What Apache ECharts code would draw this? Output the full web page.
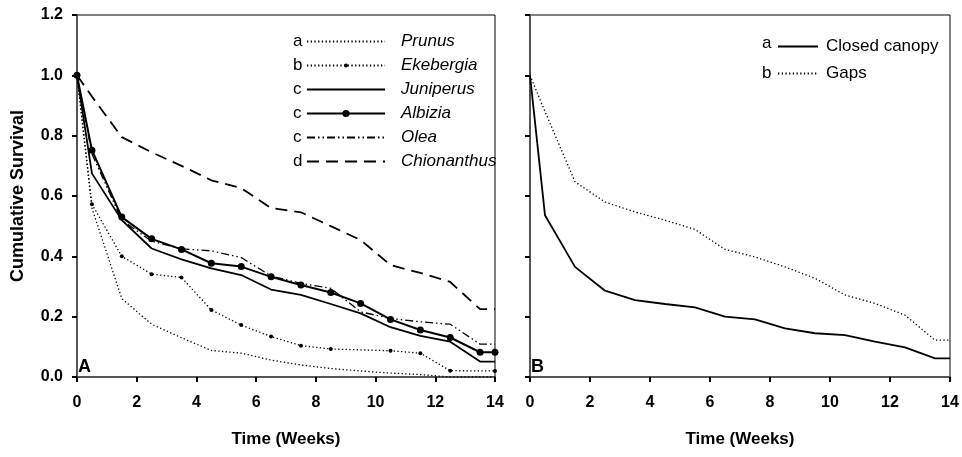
<!DOCTYPE html>
<html>
<head>
<meta charset="utf-8">
<script src="https://cdn.jsdelivr.net/npm/echarts@6/dist/echarts.min.js"></script>
<style>
html,body{margin:0;padding:0;background:#fff;}
#chart{width:962px;height:457px;}
</style>
</head>
<body>
<div id="chart"></div>
<script>
// Time points (weeks)
var weeks = [0, 0.5, 1.5, 2.5, 3.5, 4.5, 5.5, 6.5, 7.5, 8.5, 9.5, 10.5, 11.5, 12.5, 13.5, 14];
// Panel A species
var prunus      = [1.0, 0.56, 0.26, 0.175, 0.13, 0.088, 0.079, 0.056, 0.04, 0.028, 0.02, 0.013, 0.008, 0.0, 0.0, 0.0];
var ekebergiaWeeks = [0, 0.5, 1.5, 2.5, 3.5, 4.5, 5.5, 6.5, 7.5, 8.5, 10.5, 11.5, 12.5, 14];
var ekebergia   = [1.0, 0.573, 0.40, 0.341, 0.33, 0.222, 0.172, 0.134, 0.104, 0.093, 0.087, 0.079, 0.021, 0.02];
var juniperus   = [1.0, 0.675, 0.52, 0.426, 0.39, 0.36, 0.338, 0.29, 0.272, 0.242, 0.211, 0.165, 0.136, 0.117, 0.051, 0.051];
var albizia     = [1.0, 0.752, 0.53, 0.458, 0.423, 0.377, 0.366, 0.332, 0.305, 0.28, 0.244, 0.191, 0.156, 0.131, 0.082, 0.082];
var olea        = [1.0, 0.74, 0.52, 0.45, 0.425, 0.418, 0.396, 0.335, 0.31, 0.294, 0.216, 0.194, 0.183, 0.175, 0.109, 0.109];
var chionanthus = [1.0, 0.93, 0.795, 0.745, 0.70, 0.652, 0.626, 0.56, 0.546, 0.50, 0.454, 0.371, 0.345, 0.315, 0.225, 0.225];
// Panel B habitats
var closedCanopy = [1.0, 0.536, 0.365, 0.286, 0.255, 0.242, 0.231, 0.2, 0.191, 0.161, 0.145, 0.139, 0.117, 0.098, 0.062, 0.062];
var gaps         = [1.0, 0.88, 0.647, 0.58, 0.547, 0.52, 0.489, 0.423, 0.398, 0.365, 0.327, 0.272, 0.244, 0.205, 0.122, 0.122];
// Legend entries and letters (significance groups)
var speciesNames = ['Prunus', 'Ekebergia', 'Juniperus', 'Albizia', 'Olea', 'Chionanthus'];
var speciesLetters = ['a', 'b', 'c', 'c', 'c', 'd'];
var habitatNames = ['Closed canopy', 'Gaps'];
var habitatLetters = ['a', 'b'];
var xTicks = {min: 0, max: 14, interval: 2};
var yTicks = {min: 0, max: 1.2, interval: 0.2};

function pairs(xs, ys) { return xs.map(function (x, i) { return [x, ys[i]]; }); }

var FONT = '"Liberation Sans", Arial, sans-serif';
var chart = echarts.init(document.getElementById('chart'), null, {renderer: 'canvas'});

function xAxis(idx) {
  return {
    gridIndex: idx, type: 'value', min: xTicks.min, max: xTicks.max, interval: xTicks.interval,
    name: 'Time (Weeks)', nameLocation: 'middle', nameGap: 54,
    nameTextStyle: {fontFamily: FONT, fontWeight: 'bold', fontSize: 17, color: '#000'},
    axisLine: {show: true, lineStyle: {color: '#555', width: 2}},
    axisTick: {show: true, inside: false, length: 5, lineStyle: {color: '#000', width: 2}},
    axisLabel: {fontFamily: FONT, fontWeight: 'bold', fontSize: 16, color: '#000', margin: 18},
    splitLine: {show: false}
  };
}
function yAxis(idx, labels) {
  return {
    gridIndex: idx, type: 'value', min: yTicks.min, max: yTicks.max, interval: yTicks.interval,
    name: labels ? 'Cumulative Survival' : '', nameLocation: 'middle', nameGap: 50,
    nameTextStyle: {fontFamily: FONT, fontWeight: 'bold', fontSize: 18, color: '#000'},
    axisLine: {show: true, lineStyle: {color: '#555', width: 2}},
    axisTick: {show: true, inside: false, length: 5, lineStyle: {color: '#000', width: 2}},
    axisLabel: {show: labels, fontFamily: FONT, fontWeight: 'bold', fontSize: 16, color: '#000', margin: 14,
      formatter: function (v) { return v.toFixed(1); }},
    splitLine: {show: false}
  };
}

var black = '#000';
var DOT = [1.3, 2.4];
var series = [
  {name: 'Prunus', type: 'line', xAxisIndex: 0, yAxisIndex: 0, data: pairs(weeks, prunus),
   symbol: 'none', lineStyle: {color: black, width: 1.3, type: DOT}, itemStyle: {color: black}},
  {name: 'Ekebergia', type: 'line', xAxisIndex: 0, yAxisIndex: 0, data: pairs(ekebergiaWeeks, ekebergia),
   symbol: 'circle', symbolSize: 4, lineStyle: {color: black, width: 1.3, type: DOT}, itemStyle: {color: black}},
  {name: 'Juniperus', type: 'line', xAxisIndex: 0, yAxisIndex: 0, data: pairs(weeks, juniperus),
   symbol: 'none', lineStyle: {color: black, width: 1.8, type: 'solid'}, itemStyle: {color: black}},
  {name: 'Albizia', type: 'line', xAxisIndex: 0, yAxisIndex: 0, data: pairs(weeks, albizia),
   symbol: 'circle', symbolSize: 7, lineStyle: {color: black, width: 2, type: 'solid'}, itemStyle: {color: black}},
  {name: 'Olea', type: 'line', xAxisIndex: 0, yAxisIndex: 0, data: pairs(weeks, olea),
   symbol: 'none', lineStyle: {color: black, width: 1.3, type: [8, 3, 1.5, 3, 1.5, 3]}, itemStyle: {color: black}},
  {name: 'Chionanthus', type: 'line', xAxisIndex: 0, yAxisIndex: 0, data: pairs(weeks, chionanthus),
   symbol: 'none', lineStyle: {color: black, width: 1.8, type: [12, 7]}, itemStyle: {color: black}},
  {name: 'Closed canopy', type: 'line', xAxisIndex: 1, yAxisIndex: 1, data: pairs(weeks, closedCanopy),
   symbol: 'none', lineStyle: {color: black, width: 1.8, type: 'solid'}, itemStyle: {color: black}},
  {name: 'Gaps', type: 'line', xAxisIndex: 1, yAxisIndex: 1, data: pairs(weeks, gaps),
   symbol: 'none', lineStyle: {color: black, width: 1.3, type: DOT}, itemStyle: {color: black}}
];
series.forEach(function (s) { s.animation = false; s.silent = true; });

var hasMarker = {'Ekebergia': 4, 'Albizia': 7};

var legends = [];
speciesNames.forEach(function (n, i) {
  var mk = hasMarker[n];
  legends.push({
    data: [{name: n, itemStyle: mk ? {} : {opacity: 0}}],
    orient: 'vertical', left: 301, top: 28 + i * 24,
    itemWidth: 78, itemHeight: mk ? Math.round(mk / 0.8) : 7, selectedMode: false,
    textStyle: {fontFamily: FONT, fontStyle: 'italic', fontSize: 17, color: '#000', padding: [0, 0, 0, 11]}
  });
});
habitatNames.forEach(function (n, i) {
  legends.push({
    data: [{name: n, itemStyle: {opacity: 0}}],
    orient: 'vertical', left: 772, top: 33 + i * 27,
    itemWidth: 40, itemHeight: 7, selectedMode: false,
    textStyle: {fontFamily: FONT, fontSize: 17, color: '#000', padding: [0, 0, 0, 3]}
  });
});

var graphics = [];
speciesLetters.forEach(function (l, i) {
  graphics.push({type: 'text', left: 293, top: 33 + i * 24,
    style: {text: l, font: '17px ' + FONT, fill: '#000'}});
});
habitatLetters.forEach(function (l, i) {
  graphics.push({type: 'text', left: 762, top: 35 + i * 30,
    style: {text: l, font: '17px ' + FONT, fill: '#000'}});
});
graphics.push({type: 'text', left: 78, top: 358, style: {text: 'A', font: 'bold 18px ' + FONT, fill: '#000'}});
graphics.push({type: 'text', left: 531, top: 358, style: {text: 'B', font: 'bold 18px ' + FONT, fill: '#000'}});

chart.setOption({
  animation: false,
  backgroundColor: '#fff',
  grid: [
    {left: 77, top: 15, width: 418, height: 362, show: true, borderColor: '#000', borderWidth: 1, backgroundColor: 'transparent'},
    {left: 530, top: 15, width: 420, height: 362, show: true, borderColor: '#000', borderWidth: 1, backgroundColor: 'transparent'}
  ],
  xAxis: [xAxis(0), xAxis(1)],
  yAxis: [yAxis(0, true), yAxis(1, false)],
  legend: legends,
  graphic: graphics,
  series: series
});
</script>
</body>
</html>
